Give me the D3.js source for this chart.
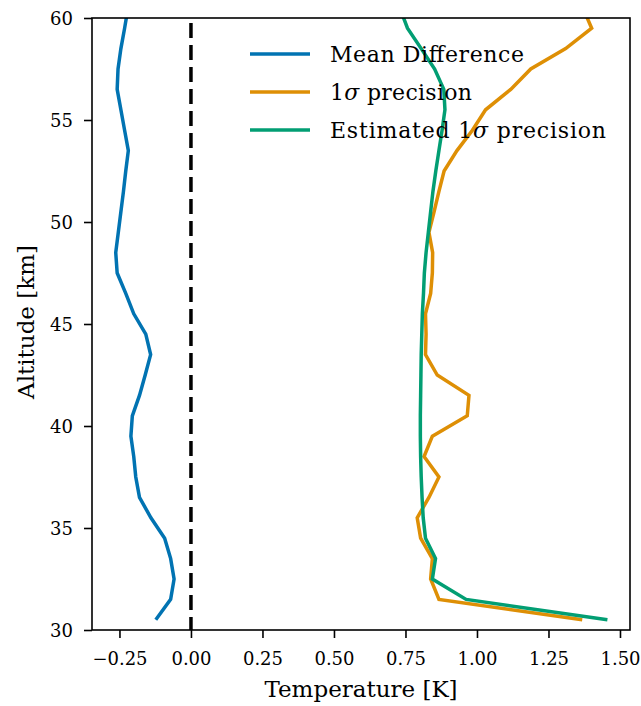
<!DOCTYPE html>
<html>
<head>
<meta charset="utf-8">
<script src="https://cdn.jsdelivr.net/npm/d3@7"></script>
<style>
  html, body { margin: 0; padding: 0; background: #fff; }
</style>
</head>
<body>
<svg id="chart" width="641" height="706"></svg>
<script>
// ---- data ----
const altitudes = [30.5,31.5,32.5,33.5,34.5,35.5,36.5,37.5,38.5,39.5,40.5,41.5,42.5,43.5,44.5,45.5,46.5,47.5,48.5,49.5,50.5,51.5,52.5,53.5,54.5,55.5,56.5,57.5,58.5,59.5,60.5];
const meanDifference = [-0.123,-0.071,-0.059,-0.071,-0.092,-0.14,-0.18,-0.193,-0.200,-0.210,-0.205,-0.180,-0.160,-0.141,-0.158,-0.200,-0.228,-0.258,-0.263,-0.254,-0.245,-0.236,-0.228,-0.219,-0.232,-0.245,-0.258,-0.255,-0.245,-0.232,-0.220];
const precision = [1.368,0.867,0.838,0.844,0.803,0.791,0.832,0.867,0.815,0.844,0.966,0.972,0.861,0.820,0.822,0.820,0.838,0.844,0.845,0.832,0.850,0.867,0.885,0.930,0.984,1.030,1.118,1.188,1.310,1.401,1.370];
const estPrecision = [1.456,0.962,0.844,0.855,0.820,0.812,0.808,0.805,0.803,0.802,0.802,0.803,0.804,0.805,0.807,0.809,0.813,0.816,0.822,0.830,0.838,0.846,0.856,0.867,0.878,0.888,0.884,0.852,0.805,0.757,0.730];
const xTicks = [-0.25,0,0.25,0.5,0.75,1.0,1.25,1.5];
const yTicks = [30,35,40,45,50,55,60];
const seriesNames = ["Mean Difference","1σ precision","Estimated 1σ precision"];
const seriesColors = ["#0173b2","#de8f05","#029e73"];

// ---- layout ----
const FONT = "DejaVu Serif";
const svg = d3.select("#chart");
const L = 92, R = 630, T = 18, B = 630;
const x = d3.scaleLinear().domain([-0.346, 1.535]).range([L, R]);
const y = d3.scaleLinear().domain([30, 60]).range([B, T]);

svg.append("defs").append("clipPath").attr("id","clip")
  .append("rect").attr("x",L).attr("y",T).attr("width",R-L).attr("height",B-T);

const plot = svg.append("g").attr("clip-path","url(#clip)");

plot.append("line")
  .attr("x1", x(0)).attr("x2", x(0)).attr("y1", y(60)+5).attr("y2", y(30))
  .attr("stroke","#000").attr("stroke-width",3.5).attr("stroke-dasharray","15,7");

const series = [meanDifference, precision, estPrecision];
const line = d3.line().x(d => x(d[0])).y(d => y(d[1]));
series.forEach((vals, i) => {
  plot.append("path")
    .datum(vals.map((v, k) => [v, altitudes[k]]))
    .attr("d", line)
    .attr("fill","none")
    .attr("stroke", seriesColors[i])
    .attr("stroke-width", 3.5);
});

const fmtX = d => (d < 0 ? "\u2212" : "") + Math.abs(d).toFixed(2);
const xAxis = svg.append("g").attr("transform",`translate(0,${B})`)
  .call(d3.axisBottom(x).tickValues(xTicks).tickFormat(fmtX).tickSize(8).tickPadding(10));
const yAxis = svg.append("g").attr("transform",`translate(${L},0)`)
  .call(d3.axisLeft(y).tickValues(yTicks).tickFormat(d3.format("d")).tickSize(8).tickPadding(11));
[xAxis, yAxis].forEach(a => {
  a.attr("font-family", FONT).attr("font-size", 18);
  a.select(".domain").remove();
  a.selectAll(".tick line").attr("stroke","#000").attr("stroke-width",1.6);
  a.selectAll(".tick text").attr("font-family", FONT).attr("font-size", 18).attr("fill","#000");
});
xAxis.selectAll(".tick text").attr("dy","0.95em");
yAxis.selectAll(".tick text").attr("dy","0.36em");

svg.append("rect").attr("x",L).attr("y",T).attr("width",R-L).attr("height",B-T)
  .attr("fill","none").attr("stroke","#000").attr("stroke-width",1.6);

svg.append("text").attr("x",361).attr("y",697).attr("text-anchor","middle")
  .attr("font-family", FONT).attr("font-size",23).text("Temperature [K]");
svg.append("text").attr("transform",`translate(34,${(T+B)/2 - 2}) rotate(-90)`).attr("text-anchor","middle")
  .attr("font-family", FONT).attr("font-size",23).text("Altitude [km]");

const legend = svg.append("g");
const legY = [54, 92, 130];
const legW = [194, 142, 276];
seriesNames.forEach((name, i) => {
  legend.append("line").attr("x1",250).attr("x2",310).attr("y1",legY[i]).attr("y2",legY[i])
    .attr("stroke",seriesColors[i]).attr("stroke-width",3.5);
  const t = legend.append("text").attr("x",330).attr("y",legY[i]+8)
    .attr("font-family", FONT).attr("font-size",22)
    .attr("textLength", legW[i]).attr("lengthAdjust","spacing");
  const parts = name.split("σ");
  if (parts.length > 1) {
    t.append("tspan").text(parts[0]);
    t.append("tspan").attr("font-style","italic").text("σ");
    t.append("tspan").text(parts[1]);
  } else {
    t.text(name);
  }
});
</script>
</body>
</html>
